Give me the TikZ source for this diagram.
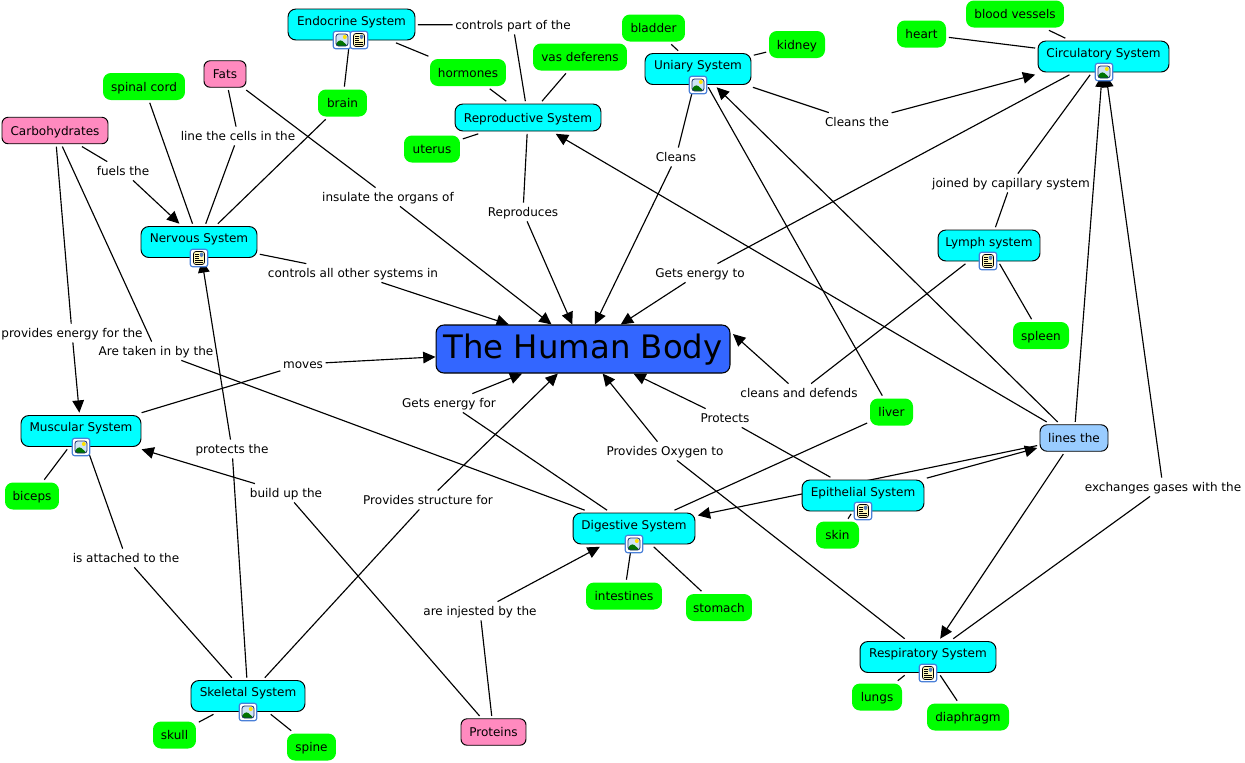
\documentclass[tikz,border=0pt]{standalone}
\usepackage{fontspec}
\setmainfont{DejaVu Sans}
\usetikzlibrary{arrows.meta,backgrounds}
\definecolor{sysCyan}{HTML}{00FFFF}
\definecolor{leafGreen}{HTML}{00FF00}
\definecolor{foodPink}{HTML}{FF8ABF}
\definecolor{linkBlue}{HTML}{99CCFF}
\definecolor{bodyBlue}{HTML}{3366FF}
\definecolor{iconBlue}{HTML}{4A80D8}
\definecolor{iconSky}{HTML}{CFE4F5}
\definecolor{iconNavy}{HTML}{1C2F6B}
\definecolor{iconPaper}{HTML}{FFF8B8}
\tikzset{
    >={Triangle[length=7pt,width=6.6pt]},
    concept/.style={
        rectangle,
        rounded corners=4.5pt,
        font=\fontsize{6.85}{8.3}\selectfont,
        text height=6.8pt,
        text depth=1.5pt,
        inner xsep=0pt,
        inner ysep=0pt,
        outer sep=1.6pt
    },
    sysbox/.style={concept, draw=black, line width=0.55pt, fill=sysCyan, minimum height=0.62cm},
    sysicon/.style={sysbox, text depth=5.7pt},
    sysplain/.style={sysbox, minimum height=0.54cm},
    leaf/.style={concept, fill=leafGreen, minimum height=0.54cm},
    food/.style={concept, rounded corners=3.5pt, draw=black, line width=0.55pt, fill=foodPink, minimum height=0.53cm},
    lblbox/.style={
        font=\fontsize{6.85}{8.3}\selectfont,
        text height=5.5pt,
        text depth=0.2pt,
        inner xsep=0.5pt,
        inner ysep=1.5pt,
        outer sep=1pt
    },
    link/.style={line width=0.65pt},
    arr/.style={line width=0.65pt, ->},
    iconbase/.style={
        rectangle,
        rounded corners=1.4pt,
        draw=iconBlue,
        line width=0.65pt,
        fill=white,
        minimum size=0.35cm,
        inner sep=0pt
    },
    imgicon/.style={iconbase, path picture={
        \begin{scope}[shift={(path picture bounding box.center)}]
            \fill[iconSky] (-6,-6) rectangle (6,6);
            \fill[yellow!85!orange] (2.8,-3) circle (2);
            \fill[green!45!black] (-6,6) -- (-6,3) -- (-1.5,-0.5) -- (6,6) -- cycle;
            \draw[iconNavy, line width=0.45pt] (-6,-6) rectangle (6,6);
        \end{scope}
    }},
    docicon/.style={iconbase, path picture={
        \begin{scope}[shift={(path picture bounding box.center)}]
            \fill[iconPaper] (-5.5,-6.5) rectangle (5.5,6.5);
            \draw[black, line width=0.4pt] (-5.5,-6.5) rectangle (5.5,6.5);
            \fill[iconBlue!70!gray] (0.5,-5.5) rectangle (4.5,-1);
            \foreach \ly in {-4,-2,0} {
                \draw[black, line width=0.4pt] (-4,\ly) -- (-0.5,\ly);
            }
            \foreach \ly in {2,4} {
                \draw[black, line width=0.4pt] (-4,\ly) -- (4,\ly);
            }
        \end{scope}
    }}
}

\begin{document}
\begin{tikzpicture}[x=0.02cm, y=-0.02cm]
    \useasboundingbox (0,0) rectangle (1245,762);

    % centre of the map
    \node[rectangle, rounded corners=4.5pt, draw=black, line width=0.6pt, fill=bodyBlue,
          minimum width=5.88cm, minimum height=0.96cm, inner sep=0pt,
          text height=15.3pt, text depth=4pt,
          font=\fontsize{18.4}{22}\selectfont] (humanBody) at (583,349) {The Human Body};
    \coordinate (bodyRight) at (733,334);

    % body systems
    \node[sysicon, minimum width=2.54cm] (endoSys) at (351.5,24.5) {Endocrine System};
    \node[sysplain, minimum width=2.92cm] (reproSys) at (528,117.5) {Reproductive System};
    \node[sysicon, minimum width=2.12cm] (uniSys) at (698,69) {Uniary System};
    \node[sysicon, minimum width=2.62cm] (circSys) at (1103.5,56.5) {Circulatory System};
    \node[sysicon, minimum width=2.32cm] (nervSys) at (199,242) {Nervous System};
    \node[sysicon, minimum width=2.04cm] (lymphSys) at (989,245.5) {Lymph system};
    \node[sysicon, minimum width=2.40cm] (muscSys) at (81,431) {Muscular System};
    \node[sysicon, minimum width=2.44cm] (epiSys) at (863,495.5) {Epithelial System};
    \node[sysicon, minimum width=2.44cm] (digSys) at (634,528.5) {Digestive System};
    \node[sysicon, minimum width=2.72cm] (respSys) at (928,657) {Respiratory System};
    \node[sysicon, minimum width=2.28cm] (skelSys) at (248,696) {Skeletal System};

    % nutrients
    \node[food, minimum width=2.12cm] (carbNode) at (55,130.5) {Carbohydrates};
    \node[food, minimum width=0.84cm] (fatsNode) at (225,74) {Fats};
    \node[food, minimum width=1.30cm] (protNode) at (493.5,732) {Proteins};
    \node[food, rounded corners=4pt, fill=linkBlue, minimum width=1.36cm] (linesThe) at (1074,438) {lines the};

    % parts
    \node[leaf, minimum width=1.26cm] (bladderPt) at (653.5,28) {bladder};
    \node[leaf, minimum width=1.12cm] (kidneyPt) at (797,44.5) {kidney};
    \node[leaf, minimum width=1.88cm] (vasPt) at (580,57) {vas deferens};
    \node[leaf, minimum width=1.52cm] (hormPt) at (468,72.5) {hormones};
    \node[leaf, minimum width=0.98cm] (brainPt) at (342.5,103) {brain};
    \node[leaf, minimum width=1.64cm] (spinalPt) at (144,86.5) {spinal cord};
    \node[leaf, minimum width=1.12cm] (uterusPt) at (432,149) {uterus};
    \node[leaf, minimum width=0.98cm] (heartPt) at (921.5,34) {heart};
    \node[leaf, minimum width=1.96cm] (bloodPt) at (1015,14) {blood vessels};
    \node[leaf, minimum width=1.12cm] (spleenPt) at (1041,335.5) {spleen};
    \node[leaf, minimum width=0.86cm] (liverPt) at (891.5,412) {liver};
    \node[leaf, minimum width=1.08cm] (bicepsPt) at (32,496) {biceps};
    \node[leaf, minimum width=0.86cm] (skinPt) at (837.5,535) {skin};
    \node[leaf, minimum width=1.52cm] (intestPt) at (624,596) {intestines};
    \node[leaf, minimum width=1.32cm] (stomachPt) at (719,607.5) {stomach};
    \node[leaf, minimum width=1.00cm] (lungsPt) at (877,697) {lungs};
    \node[leaf, minimum width=1.64cm] (diaphPt) at (968,717) {diaphragm};
    \node[leaf, minimum width=0.86cm] (skullPt) at (174.5,735) {skull};
    \node[leaf, minimum width=0.98cm] (spinePt) at (311.5,747) {spine};

    % link phrases
    \node[lblbox] (lblControlsPart) at (513,25) {controls part of the};
    \node[lblbox] (lblLineCells) at (238,136) {line the cells in the};
    \node[lblbox] (lblFuels) at (123,171) {fuels the};
    \node[lblbox] (lblInsulate) at (388,197) {insulate the organs of};
    \node[lblbox] (lblReproduces) at (523,212) {Reproduces};
    \node[lblbox] (lblCleans) at (676,157) {Cleans};
    \node[lblbox] (lblCleansThe) at (857,122) {Cleans the};
    \node[lblbox] (lblJoined) at (1011,183) {joined by capillary system};
    \node[lblbox] (lblControlsAll) at (353,273) {controls all other systems in};
    \node[lblbox] (lblEnergyTo) at (700,273) {Gets energy to};
    \node[lblbox] (lblProvEnergy) at (72,333) {provides energy for the};
    \node[lblbox] (lblTakenIn) at (156,351) {Are taken in by the};
    \node[lblbox] (lblMoves) at (303,364) {moves};
    \node[lblbox] (lblEnergyFor) at (449,403) {Gets energy for};
    \node[lblbox] (lblCleansDef) at (799,393) {cleans and defends};
    \node[lblbox] (lblProtects) at (725,418) {Protects};
    \node[lblbox] (lblOxygen) at (665,451) {Provides Oxygen to};
    \node[lblbox] (lblProtectsThe) at (232,449) {protects the};
    \node[lblbox] (lblBuildUp) at (286,493) {build up the};
    \node[lblbox] (lblStructure) at (428,500) {Provides structure for};
    \node[lblbox] (lblExchanges) at (1163,487) {exchanges gases with the};
    \node[lblbox] (lblAttached) at (126,558) {is attached to the};
    \node[lblbox] (lblInjested) at (480,611) {are injested by the};

    % resource icons
    \node[imgicon] (icoEndoA) at (342,40) {};
    \node[docicon] (icoEndoB) at (359,40) {};
    \node[imgicon] (icoUni) at (698,85) {};
    \node[imgicon] (icoCirc) at (1104,72) {};
    \node[docicon] (icoNerv) at (199,258) {};
    \node[docicon] (icoLymph) at (988,261) {};
    \node[imgicon] (icoMusc) at (81,447) {};
    \node[docicon] (icoEpi) at (863,511) {};
    \node[imgicon] (icoDig) at (634,544) {};
    \node[docicon] (icoResp) at (928,673) {};
    \node[imgicon] (icoSkel) at (248,712) {};

    \begin{scope}[on background layer]
        % endocrine and reproductive
        \draw[link] (endoSys) -- (lblControlsPart);
        \draw[link] (lblControlsPart) -- (reproSys);
        \draw[link] (endoSys) -- (hormPt);
        \draw[link] (endoSys) -- (brainPt);
        \draw[link] (hormPt) -- (reproSys);
        \draw[link] (vasPt) -- (reproSys);
        \draw[link] (uterusPt) -- (reproSys);
        \draw[link] (reproSys) -- (lblReproduces);
        \draw[arr] (lblReproduces) -- (humanBody);
        % nervous
        \draw[link] (spinalPt) -- (nervSys);
        \draw[link] (brainPt) -- (nervSys);
        \draw[link] (fatsNode) -- (lblLineCells);
        \draw[link] (lblLineCells) -- (nervSys);
        \draw[link] (carbNode) -- (lblFuels);
        \draw[arr] (lblFuels) -- (nervSys);
        \draw[link] (nervSys) -- (lblControlsAll);
        \draw[arr] (lblControlsAll) -- (humanBody);
        % nutrients
        \draw[link] (fatsNode) -- (lblInsulate);
        \draw[arr] (lblInsulate) -- (humanBody);
        \draw[link] (carbNode) -- (lblProvEnergy);
        \draw[arr] (lblProvEnergy) -- (muscSys);
        \draw[link] (carbNode) -- (lblTakenIn);
        \draw[link] (lblTakenIn) -- (digSys);
        \draw[link] (protNode) -- (lblBuildUp);
        \draw[arr] (lblBuildUp) -- (muscSys);
        \draw[link] (protNode) -- (lblInjested);
        \draw[arr] (lblInjested) -- (digSys);
        % urinary and circulatory
        \draw[link] (bladderPt) -- (uniSys);
        \draw[link] (kidneyPt) -- (uniSys);
        \draw[link] (liverPt) -- (uniSys);
        \draw[link] (uniSys) -- (lblCleans);
        \draw[arr] (lblCleans) -- (humanBody);
        \draw[link] (uniSys) -- (lblCleansThe);
        \draw[arr] (lblCleansThe) -- (circSys);
        \draw[link] (heartPt) -- (circSys);
        \draw[link] (bloodPt) -- (circSys);
        \draw[link] (circSys) -- (lblJoined);
        \draw[link] (lblJoined) -- (lymphSys);
        \draw[link] (circSys) -- (lblEnergyTo);
        \draw[arr] (lblEnergyTo) -- (humanBody);
        % lymph
        \draw[link] (lymphSys) -- (spleenPt);
        \draw[link] (lymphSys) -- (lblCleansDef);
        \draw[arr] (lblCleansDef) -- (bodyRight);
        % lines the
        \draw[arr] (epiSys) -- (linesThe);
        \draw[arr] (linesThe) -- (digSys);
        \draw[arr] (linesThe) -- (reproSys);
        \draw[arr] (linesThe) -- (uniSys);
        \draw[arr] (linesThe) -- (circSys);
        \draw[arr] (linesThe) -- (respSys);
        % epithelial and digestive
        \draw[link] (epiSys) -- (skinPt);
        \draw[link] (epiSys) -- (lblProtects);
        \draw[arr] (lblProtects) -- (humanBody);
        \draw[link] (liverPt) -- (digSys);
        \draw[link] (digSys) -- (intestPt);
        \draw[link] (digSys) -- (stomachPt);
        \draw[link] (digSys) -- (lblEnergyFor);
        \draw[arr] (lblEnergyFor) -- (humanBody);
        % respiratory
        \draw[link] (respSys) -- (lungsPt);
        \draw[link] (respSys) -- (diaphPt);
        \draw[link] (respSys) -- (lblOxygen);
        \draw[arr] (lblOxygen) -- (humanBody);
        \draw[link] (respSys) -- (lblExchanges);
        \draw[arr] (lblExchanges) -- (circSys);
        % muscular and skeletal
        \draw[link] (muscSys) -- (bicepsPt);
        \draw[link] (muscSys) -- (lblMoves);
        \draw[arr] (lblMoves) -- (humanBody);
        \draw[link] (muscSys) -- (lblAttached);
        \draw[link] (lblAttached) -- (skelSys);
        \draw[link] (skelSys) -- (skullPt);
        \draw[link] (skelSys) -- (spinePt);
        \draw[link] (skelSys) -- (lblProtectsThe);
        \draw[arr] (lblProtectsThe) -- (nervSys);
        \draw[link] (skelSys) -- (lblStructure);
        \draw[arr] (lblStructure) -- (humanBody);
    \end{scope}
\end{tikzpicture}
\end{document}
